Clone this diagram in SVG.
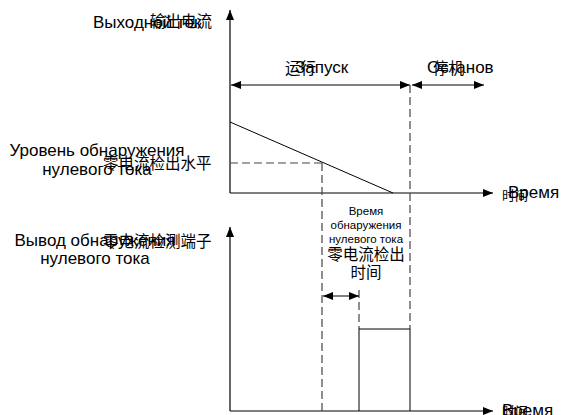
<svg xmlns="http://www.w3.org/2000/svg" width="561" height="415" viewBox="0 0 561 415">
<style>
.ax{stroke:#000;stroke-width:1.2;fill:none}
.ln{stroke:#000;stroke-width:1;fill:none}
.da{stroke:#444;stroke-width:1.2;fill:none;stroke-dasharray:8,4}
.ru{font-family:"Liberation Sans",Arial,sans-serif;font-size:17px;fill:#000}
.sm{font-family:"Liberation Sans",Arial,sans-serif;font-size:11.5px;fill:#000}
.zh{font-family:"Liberation Sans","Noto Sans CJK SC",sans-serif;font-size:15.5px;fill:#000}
</style>
<defs>
<marker id="ah" viewBox="0 0 10 8" refX="10" refY="4" markerWidth="10" markerHeight="8" markerUnits="userSpaceOnUse" orient="auto-start-reverse">
<path d="M0,0 L10,4 L0,8 Z" fill="#000"/>
</marker>
</defs>
<rect width="561" height="415" fill="#fff"/>
<g id="connectors">
<line class="ax" x1="230" y1="193" x2="230" y2="10" marker-end="url(#ah)"/>
<line class="ax" x1="230" y1="193" x2="493" y2="193" marker-end="url(#ah)"/>
<line class="ax" x1="230" y1="411" x2="230" y2="227" marker-end="url(#ah)"/>
<line class="ax" x1="230" y1="411" x2="493" y2="411" marker-end="url(#ah)"/>
<line class="ln" x1="231" y1="85" x2="410" y2="85" marker-start="url(#ah)" marker-end="url(#ah)"/>
<line class="ln" x1="412" y1="85" x2="484" y2="85" marker-start="url(#ah)" marker-end="url(#ah)"/>
<line class="ln" x1="230" y1="122" x2="393" y2="193"/>
<line class="da" x1="230" y1="163" x2="322" y2="163"/>
<line class="da" x1="322" y1="163" x2="322" y2="411"/>
<line class="da" x1="410" y1="85" x2="410" y2="329"/>
<line class="da" x1="359" y1="290" x2="359" y2="329"/>
<line class="ln" x1="323" y1="296" x2="359" y2="296" marker-start="url(#ah)" marker-end="url(#ah)"/>
<polyline class="ln" points="359,411 359,329 410,329 410,411"/>
</g>
<g id="label-output-current">
<text class="ru" x="93" y="28">Выходной ток</text>
<text class="zh" x="150" y="27">输出电流</text>
</g>
<g id="label-run">
<text class="ru" x="295" y="73">Запуск</text>
<text class="zh" x="285" y="74">运行</text>
</g>
<g id="label-stop">
<text class="ru" x="427" y="73">Останов</text>
<text class="zh" x="433" y="74">停机</text>
</g>
<g id="label-level">
<text class="ru" x="97" y="156" text-anchor="middle">Уровень обнаружения</text>
<text class="ru" x="97" y="175" text-anchor="middle">нулевого тока</text>
<text class="zh" x="103" y="169">零电流检出水平</text>
</g>
<g id="label-time1">
<text class="ru" x="508" y="198">Время</text>
<text class="zh" x="502" y="200" style="font-size:13px">时间</text>
</g>
<g id="label-terminal">
<text class="ru" x="95" y="246" text-anchor="middle">Вывод обнаружения</text>
<text class="ru" x="95" y="264" text-anchor="middle">нулевого тока</text>
<text class="zh" x="103" y="247">零电流检测端子</text>
</g>
<g id="label-detect-time">
<text class="sm" x="366" y="215" text-anchor="middle">Время</text>
<text class="sm" x="366" y="229" text-anchor="middle">обнаружения</text>
<text class="sm" x="366" y="243" text-anchor="middle">нулевого тока</text>
<text class="zh" x="366" y="260" text-anchor="middle">零电流检出</text>
<text class="zh" x="366" y="278" text-anchor="middle">时间</text>
</g>
<g id="label-time2">
<text class="ru" x="502" y="416">Время</text>
<text class="zh" x="502" y="416" style="font-size:13px">时间</text>
</g>
</svg>
